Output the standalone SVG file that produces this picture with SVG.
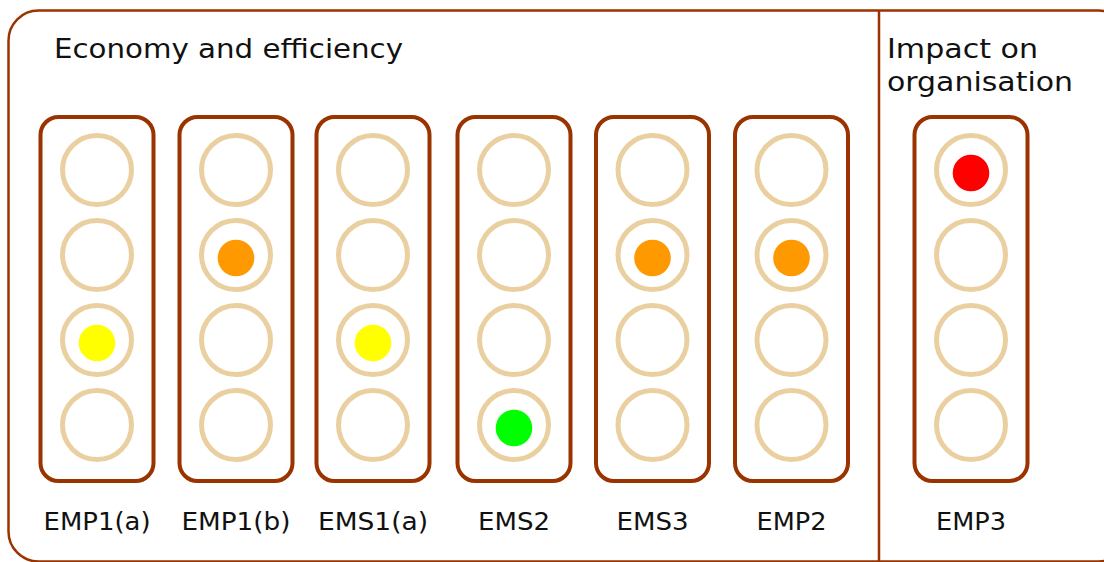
<svg xmlns="http://www.w3.org/2000/svg" width="1104" height="562" viewBox="0 0 1104 562">
<style>
.panel{fill:none;stroke:#993300;stroke-width:2.5}
.box{fill:#fff;stroke:#993300;stroke-width:4}
.ring{fill:#fff;stroke:#ead0a0;stroke-width:5}
.t{font-family:"DejaVu Sans",Verdana,sans-serif;fill:#111}
.h{font-size:26px}
.l{font-size:24px;text-anchor:middle}
</style>
<rect width="1104" height="562" fill="#fff"/>
<g id="frame">
<rect class="panel" x="8.5" y="10.5" width="1120" height="551" rx="30"/>
<line class="panel" x1="879" y1="11" x2="879" y2="562"/>
</g>
<g id="headings">
<text class="t h" x="54" y="58" textLength="349" lengthAdjust="spacingAndGlyphs">Economy and efficiency</text>
<text class="t h" x="887" y="58" textLength="151" lengthAdjust="spacingAndGlyphs">Impact on</text>
<text class="t h" x="887" y="91" textLength="186" lengthAdjust="spacingAndGlyphs">organisation</text>
</g>
<defs>
<g id="light">
<rect class="box" x="-56.5" y="0" width="113" height="364" rx="18"/>
<circle class="ring" cx="0" cy="53" r="34.5"/>
<circle class="ring" cx="0" cy="138" r="34.5"/>
<circle class="ring" cx="0" cy="223" r="34.5"/>
<circle class="ring" cx="0" cy="308" r="34.5"/>
</g>
</defs>
<g id="EMP1a" transform="translate(97,117)">
<use href="#light"/>
<circle cx="0" cy="226" r="18.3" fill="#ffff00"/>
<text class="t l" x="0" y="413" textLength="107" lengthAdjust="spacingAndGlyphs">EMP1(a)</text>
</g>
<g id="EMP1b" transform="translate(236,117)">
<use href="#light"/>
<circle cx="0" cy="141" r="18.3" fill="#ff9900"/>
<text class="t l" x="0" y="413" textLength="109" lengthAdjust="spacingAndGlyphs">EMP1(b)</text>
</g>
<g id="EMS1a" transform="translate(373,117)">
<use href="#light"/>
<circle cx="0" cy="226" r="18.3" fill="#ffff00"/>
<text class="t l" x="0" y="413" textLength="110" lengthAdjust="spacingAndGlyphs">EMS1(a)</text>
</g>
<g id="EMS2" transform="translate(514,117)">
<use href="#light"/>
<circle cx="0" cy="311" r="18.3" fill="#00ff00"/>
<text class="t l" x="0" y="413" textLength="72" lengthAdjust="spacingAndGlyphs">EMS2</text>
</g>
<g id="EMS3" transform="translate(652.5,117)">
<use href="#light"/>
<circle cx="0" cy="141" r="18.3" fill="#ff9900"/>
<text class="t l" x="0" y="413" textLength="72" lengthAdjust="spacingAndGlyphs">EMS3</text>
</g>
<g id="EMP2" transform="translate(791.5,117)">
<use href="#light"/>
<circle cx="0" cy="141" r="18.3" fill="#ff9900"/>
<text class="t l" x="0" y="413" textLength="70" lengthAdjust="spacingAndGlyphs">EMP2</text>
</g>
<g id="EMP3" transform="translate(971,117)">
<use href="#light"/>
<circle cx="0" cy="56" r="18.3" fill="#ff0000"/>
<text class="t l" x="0" y="413" textLength="70" lengthAdjust="spacingAndGlyphs">EMP3</text>
</g>
<g id="connectors"/>
</svg>
